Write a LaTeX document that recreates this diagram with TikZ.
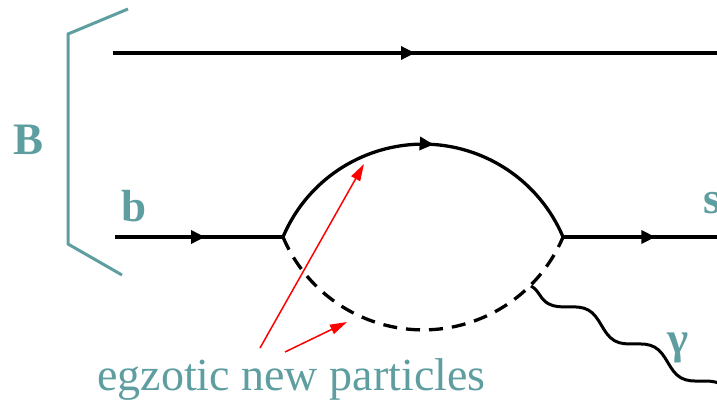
\documentclass[tikz,border=0pt]{standalone}
\usepackage{fontspec}
\setmainfont{Liberation Serif}
\usetikzlibrary{arrows.meta,decorations.markings,decorations.pathmorphing}
\definecolor{cadet}{RGB}{95,158,160}

\begin{document}
\begin{tikzpicture}[x=1pt,y=-1pt,
  fermion/.style={line width=3.3pt,postaction={decorate},
    decoration={markings,mark=at position #1 with {\arrow{Triangle[length=14pt,width=13pt]}}}},
  scalar/.style={line width=3.3pt,dash pattern=on 14pt off 9pt},
  photon/.style={line width=3pt,decorate,decoration={snake,mirror,amplitude=7pt,segment length=76pt}},
  pointer/.style={red,line width=1.5pt,-{Triangle[length=17pt,width=10pt]}},
  tag/.style={text=cadet,inner sep=0pt,font=\bfseries\fontsize{45}{45}\selectfont},
  plain/.style={text=cadet,inner sep=0pt,font=\fontsize{46}{46}\selectfont}]
\useasboundingbox (0,0) rectangle (717,399);
\coordinate (a1) at (113,53);
\coordinate (a2) at (717,53);
\coordinate (b0) at (115,237);
\coordinate (v1) at (283,237);
\coordinate (v2) at (563,237);
\coordinate (s0) at (717,237);
\coordinate (g) at (531,286);
\coordinate (gend) at (751,409);
\coordinate (r1) at (260,348);
\coordinate (t1) at (364,164);
\coordinate (r2) at (285,352);
\coordinate (t2) at (347,322);
\draw[cadet,line width=3pt] (128,9) -- (68,34) -- (68,244) -- (122,275);
\node[tag] (B) at (29,140) {B};
\node[tag] (b) at (134,206) {b};
\node[tag] (s) at (712,203) {s};
\node[tag] (gamma) at (678,348) {γ};
\node[plain,anchor=base west] (exotic) at (97,390) {egzotic new particles};
\draw[fermion=0.5] (a1) -- (a2);
\draw[fermion=0.536] (b0) -- (v1);
\draw[fermion=0.6] (v2) -- (s0);
\draw[fermion=0.53] (v1) arc[start angle=202.9, end angle=337.1, radius=152];
\draw[scalar] (v1) arc[start angle=157.1, end angle=22.9, radius=152];
\draw[photon] (g) -- (gend);
\draw[pointer] (r1) -- (t1);
\draw[pointer] (r2) -- (t2);
\end{tikzpicture}
\end{document}
